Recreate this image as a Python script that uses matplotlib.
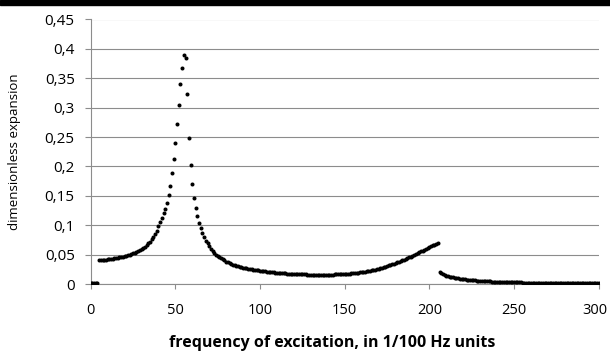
import numpy as np
import matplotlib.pyplot as plt
from matplotlib.patches import Rectangle
from matplotlib.transforms import ScaledTranslation

plt.rcParams['font.family'] = ['Open Sans', 'DejaVu Sans']

# frequency of excitation (1/100 Hz units), sampled every unit
freq = np.arange(0, 301)

# dimensionless expansion
y_0_4 = [0.001] * 5
y_5_44 = [0.0400, 0.0403, 0.0406, 0.0410, 0.0413, 0.0417, 0.0421, 0.0425, 0.0430, 0.0435,
          0.0440, 0.0446, 0.0452, 0.0459, 0.0466, 0.0474, 0.0482, 0.0491, 0.0500, 0.0510,
          0.0521, 0.0533, 0.0546, 0.0560, 0.0576, 0.0594, 0.0613, 0.0635, 0.066, 0.069,
          0.072, 0.076, 0.080, 0.085, 0.091, 0.098, 0.105, 0.112, 0.120, 0.128]
y_45_70 = [0.138, 0.152, 0.167, 0.188, 0.213, 0.240, 0.272, 0.304, 0.340, 0.368,
           0.389, 0.384, 0.323, 0.249, 0.202, 0.170, 0.147, 0.129, 0.115, 0.104,
           0.095, 0.087, 0.080, 0.074, 0.069, 0.064]
y_71_120 = [0.060, 0.056, 0.053, 0.050, 0.048, 0.046, 0.044, 0.042, 0.040, 0.038,
            0.037, 0.035, 0.034, 0.033, 0.032, 0.031, 0.030, 0.029, 0.0285, 0.028,
            0.0273, 0.0267, 0.026, 0.0255, 0.025, 0.0245, 0.024, 0.0235, 0.023, 0.0226,
            0.0222, 0.0218, 0.0214, 0.021, 0.0207, 0.0204, 0.0201, 0.0198, 0.0195, 0.0192,
            0.0189, 0.0186, 0.0184, 0.0181, 0.0179, 0.0177, 0.0175, 0.0173, 0.0171, 0.0170]
y_121_170 = [0.0168, 0.0167, 0.0166, 0.0165, 0.0164, 0.0163, 0.0162, 0.0161, 0.0160, 0.0160,
             0.0159, 0.0159, 0.0158, 0.0158, 0.0158, 0.0158, 0.0158, 0.0158, 0.0159, 0.0159,
             0.0160, 0.0160, 0.0161, 0.0162, 0.0163, 0.0164, 0.0165, 0.0166, 0.0168, 0.0170,
             0.0172, 0.0174, 0.0176, 0.0179, 0.0182, 0.0185, 0.0188, 0.0192, 0.0196, 0.0200,
             0.0205, 0.0210, 0.0215, 0.0220, 0.0226, 0.0232, 0.0238, 0.0244, 0.0251, 0.0258]
y_171_205 = [0.0268, 0.0277, 0.0286, 0.0295, 0.0305, 0.0315, 0.0325, 0.0335, 0.0345, 0.0356,
             0.0367, 0.0379, 0.0391, 0.0403, 0.0415, 0.0428, 0.0441, 0.0454, 0.0467, 0.0480,
             0.0494, 0.0509, 0.0524, 0.0539, 0.0554, 0.0569, 0.0584, 0.0599, 0.0614, 0.0628,
             0.0642, 0.0656, 0.0669, 0.0682, 0.0695]
y_206_250 = [0.0205, 0.0188, 0.0173, 0.0160, 0.0140, 0.0134, 0.0127, 0.0120, 0.0114, 0.0108,
             0.0102, 0.0097, 0.0092, 0.0087, 0.0083,
             0.0079, 0.0075, 0.0072, 0.0069, 0.0066, 0.0063, 0.0060, 0.0058, 0.0056, 0.0054,
             0.0052, 0.0050, 0.0048, 0.0046, 0.0045, 0.0043, 0.0042, 0.0040, 0.0039, 0.0038,
             0.0037, 0.0036, 0.0035, 0.0034, 0.0033, 0.0032, 0.0031, 0.0030, 0.0029, 0.0028]
y_251_300 = [0.0028, 0.0027, 0.0026, 0.0026, 0.0025, 0.0025, 0.0024, 0.0024, 0.0023, 0.0023,
             0.0022, 0.0022, 0.0021, 0.0021, 0.0021, 0.0020, 0.0020, 0.0020, 0.0019, 0.0019,
             0.0019, 0.0018, 0.0018, 0.0018, 0.0018, 0.0017, 0.0017, 0.0017, 0.0017, 0.0016,
             0.0016, 0.0016, 0.0016, 0.0016, 0.0015, 0.0015, 0.0015, 0.0015, 0.0015, 0.0015,
             0.0014, 0.0014, 0.0014, 0.0014, 0.0014, 0.0014, 0.0014, 0.0014, 0.0014, 0.0014]

expansion = np.array(y_0_4 + y_5_44 + y_45_70 + y_71_120 + y_121_170
                     + y_171_205 + y_206_250 + y_251_300)

x_ticks = [0, 50, 100, 150, 200, 250, 300]
y_ticks = [0, 0.05, 0.1, 0.15, 0.2, 0.25, 0.3, 0.35, 0.4, 0.45]
y_tick_labels = ["0", "0,05", "0,1", "0,15", "0,2", "0,25", "0,3", "0,35", "0,4", "0,45"]

grey = '#8c8c8c'

fig = plt.figure(figsize=(6.1, 3.58), dpi=100)
ax = fig.add_axes([90.7 / 610, 1 - 284 / 358, 508 / 610, 264.5 / 358])

ax.plot(freq, expansion, 'o', ms=2.9, mew=0, color='black', zorder=3)

ax.set_xlim(0, 300)
ax.set_ylim(0, 0.45)
ax.set_xticks(x_ticks)
ax.set_yticks(y_ticks)
ax.set_yticklabels(y_tick_labels)
ax.yaxis.grid(True, color=grey, linewidth=0.8)
ax.set_axisbelow(True)

for s in ["top", "right"]:
    ax.spines[s].set_visible(False)
for s in ["left", "bottom"]:
    ax.spines[s].set_color(grey)
    ax.spines[s].set_linewidth(0.8)

ax.tick_params(axis='y', labelsize=11, direction='out', length=4.5, width=0.8,
               color=grey, pad=7)
ax.tick_params(axis='x', labelsize=10.5, direction='out', length=3.5, width=0.8,
               color=grey, pad=10)

# keep the last x label inside the picture
last = ax.get_xticklabels()[-1]
last.set_transform(last.get_transform() + ScaledTranslation(-4 / 100, 0, fig.dpi_scale_trans))

ax.set_ylabel("dimensionless expansion", fontsize=9.5)
ax.yaxis.set_label_coords(-(90.7 - 20.7) / 508, 0.5)
ax.set_xlabel("frequency of excitation, in 1/100 Hz units", fontsize=11.5,
              fontweight='bold', va='center')
ax.xaxis.set_label_coords((332.5 - 90.7) / 508, -(343 - 284) / 264.5)

# black rule at the top edge of the page
fig.add_artist(Rectangle((0, 1 - 5 / 358), 1, 5 / 358, transform=fig.transFigure,
                         color='black', zorder=5))

plt.savefig("out.png", dpi=100)
